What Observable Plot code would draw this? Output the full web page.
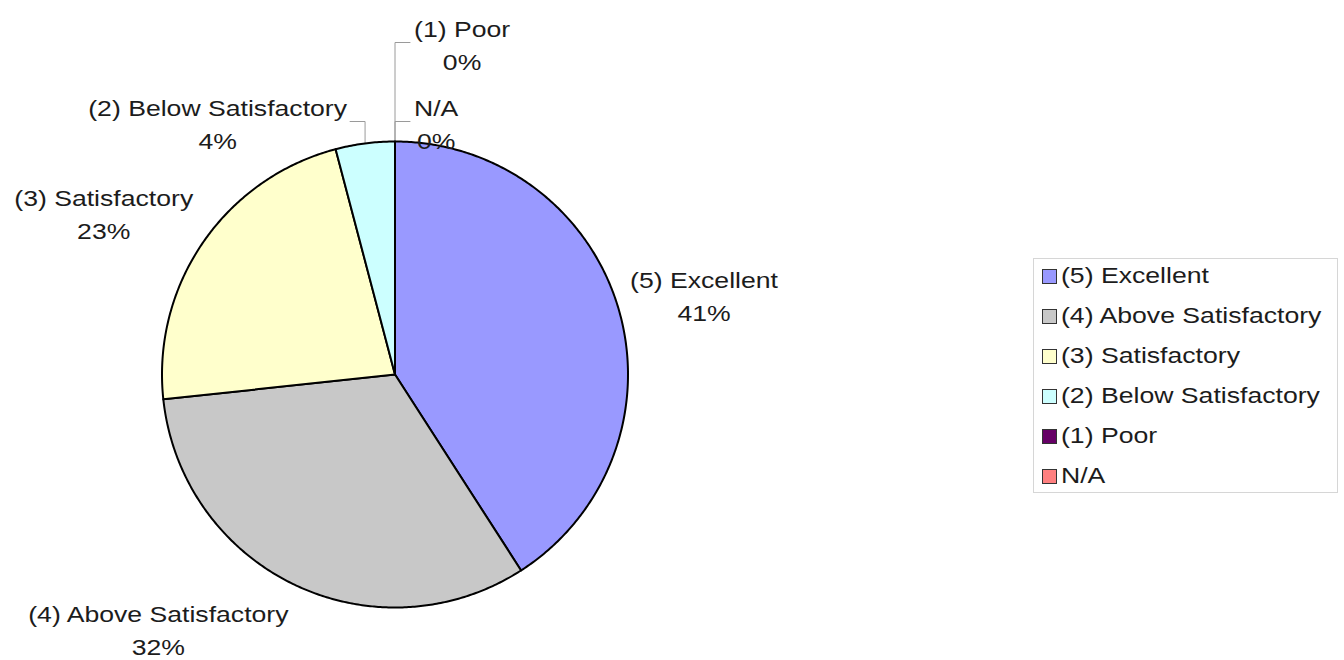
<!DOCTYPE html>
<html><head><meta charset="utf-8">
<script src="https://cdn.jsdelivr.net/npm/d3@7"></script>
<script src="https://cdn.jsdelivr.net/npm/@observablehq/plot@0.6"></script>
<style>
body{margin:0;background:#fff;}
#wrap{position:relative;width:1344px;height:660px;font-family:"Liberation Sans",Arial,sans-serif;}
#legend{position:absolute;left:1033px;top:258px;width:305px;height:235px;border:1px solid #d6d6d6;box-sizing:border-box;background:#fff;}
.item{position:absolute;left:8px;height:40px;display:flex;align-items:center;font-size:22px;color:#1c1c1c;white-space:nowrap;}
.item span{display:inline-block;transform:scaleX(1.21);transform-origin:0 50%;}
.sw{width:13px;height:13px;border:1px solid #333;margin-right:4px;flex:none;}
</style></head><body><div id="wrap"></div>
<script>
// ---- data ----
const categories = ["(5) Excellent", "(4) Above Satisfactory", "(3) Satisfactory", "(2) Below Satisfactory", "(1) Poor", "N/A"];
const percents = [40.9, 32.4, 22.6, 4.1, 0, 0];
const colors = ["#9999FF", "#C8C8C8", "#FFFFCC", "#CCFFFF", "#660066", "#FF8080"];

// ---- layout ----
const W = 1344, H = 660;
const CX = 394.5, CY = 374, R = 233;          // pie centre / radius in px
const px = v => v / R;                          // px -> data units
const FONT = 22, LH = 33, SX = 1.21;            // font size, line height, horizontal stretch

const ctx = document.createElement("canvas").getContext("2d");
ctx.font = `${FONT}px "Liberation Sans", Arial, sans-serif`;
const tw = s => ctx.measureText(s).width * SX;

const rows = categories.map((c, i) => ({cat: c, value: percents[i]}));
const arcs = d3.pie().sort(null).value(d => d.value)(rows);

// slice outlines
const slicePts = [];
arcs.forEach(a => {
  const span = a.endAngle - a.startAngle;
  if (span <= 0) return;
  const cat = a.data.cat;
  const n = Math.max(2, Math.ceil(span / (Math.PI / 360)));
  slicePts.push({cat, x: 0, y: 0});
  for (let k = 0; k <= n; k++) {
    const t = a.startAngle + span * k / n;
    slicePts.push({cat, x: Math.sin(t), y: Math.cos(t)});
  }
  slicePts.push({cat, x: 0, y: 0});
});

// labels
const labels = [], leaders = [];
const yBottom = -(H - CY) / R;
const sideCount = {left: 0, right: 0};
const small = [];
arcs.forEach((a, i) => {
  const text = `${a.data.cat}\n${Math.round(a.data.value)}%`;
  const w = Math.max(...text.split("\n").map(tw));
  const h = 2 * LH;
  const mid = (a.startAngle + a.endAngle) / 2;
  const dx = Math.sin(mid), dy = Math.cos(mid);
  if (a.data.value >= 5) {
    let x = dx * (1 + px(12)) + Math.sign(dx) * px(w / 2);
    let y = dy * (1 + px(20)) + dy * px(h / 2);
    y = Math.max(y, yBottom + px(h / 2));
    labels.push({text, x, y});
  } else {
    small.push({i, text, w, dx, dy});
  }
});
small.sort((p, q) => q.i - p.i);
small.forEach(s => {
  const side = s.dx < -0.01 ? "left" : "right";
  const k = sideCount[side]++;
  const ly = 1 + px(20 + k * 79);
  const sx = s.dx, sy = s.dy;
  const ex = side === "left" ? sx - px(15) : sx + px(15);
  leaders.push({id: s.i, x: sx, y: sy}, {id: s.i, x: sx, y: ly}, {id: s.i, x: ex, y: ly});
  const x = side === "left" ? ex - px(3) - px(s.w / 2) : ex + px(4) + px(s.w / 2);
  labels.push({text: s.text, x, y: ly});
});

const plot = Plot.plot({
  width: W, height: H, margin: 0,
  style: {fontFamily: '"Liberation Sans", Arial, sans-serif', background: "#fff"},
  x: {domain: [-1, 1], range: [CX - R, CX + R], axis: null},
  y: {domain: [-1, 1], range: [CY + R, CY - R], axis: null},
  color: {type: "ordinal", domain: categories, range: colors},
  marks: [
    Plot.line(leaders, {x: "x", y: "y", z: "id", stroke: "#9a9a9a", strokeWidth: 1}),
    Plot.line(slicePts, {x: "x", y: "y", z: "cat", fill: "cat", stroke: "#000", strokeWidth: 2, strokeLinejoin: "round"}),
    Plot.text(labels, {x: "x", y: "y", text: "text", fontSize: FONT, lineHeight: LH / FONT, fill: "#1c1c1c", textAnchor: "middle", className: "pielabel"})
  ]
});

// stretch label glyphs horizontally like the original rendering
plot.querySelectorAll("g.pielabel text").forEach(t => {
  const tr = t.getAttribute("transform") || "";
  t.setAttribute("transform", tr + ` scale(${SX},1)`);
});

const wrap = document.getElementById("wrap");
wrap.appendChild(plot);

const color = plot.scale("color");
const legend = document.createElement("div");
legend.id = "legend";
categories.forEach((c, i) => {
  const it = document.createElement("div");
  it.className = "item";
  it.style.top = (40 * i - 3) + "px";
  const sw = document.createElement("div");
  sw.className = "sw";
  sw.style.background = color.apply(c);
  const t = document.createElement("span");
  t.textContent = c;
  it.appendChild(sw); it.appendChild(t);
  legend.appendChild(it);
});
wrap.appendChild(legend);
</script>
</body></html>
